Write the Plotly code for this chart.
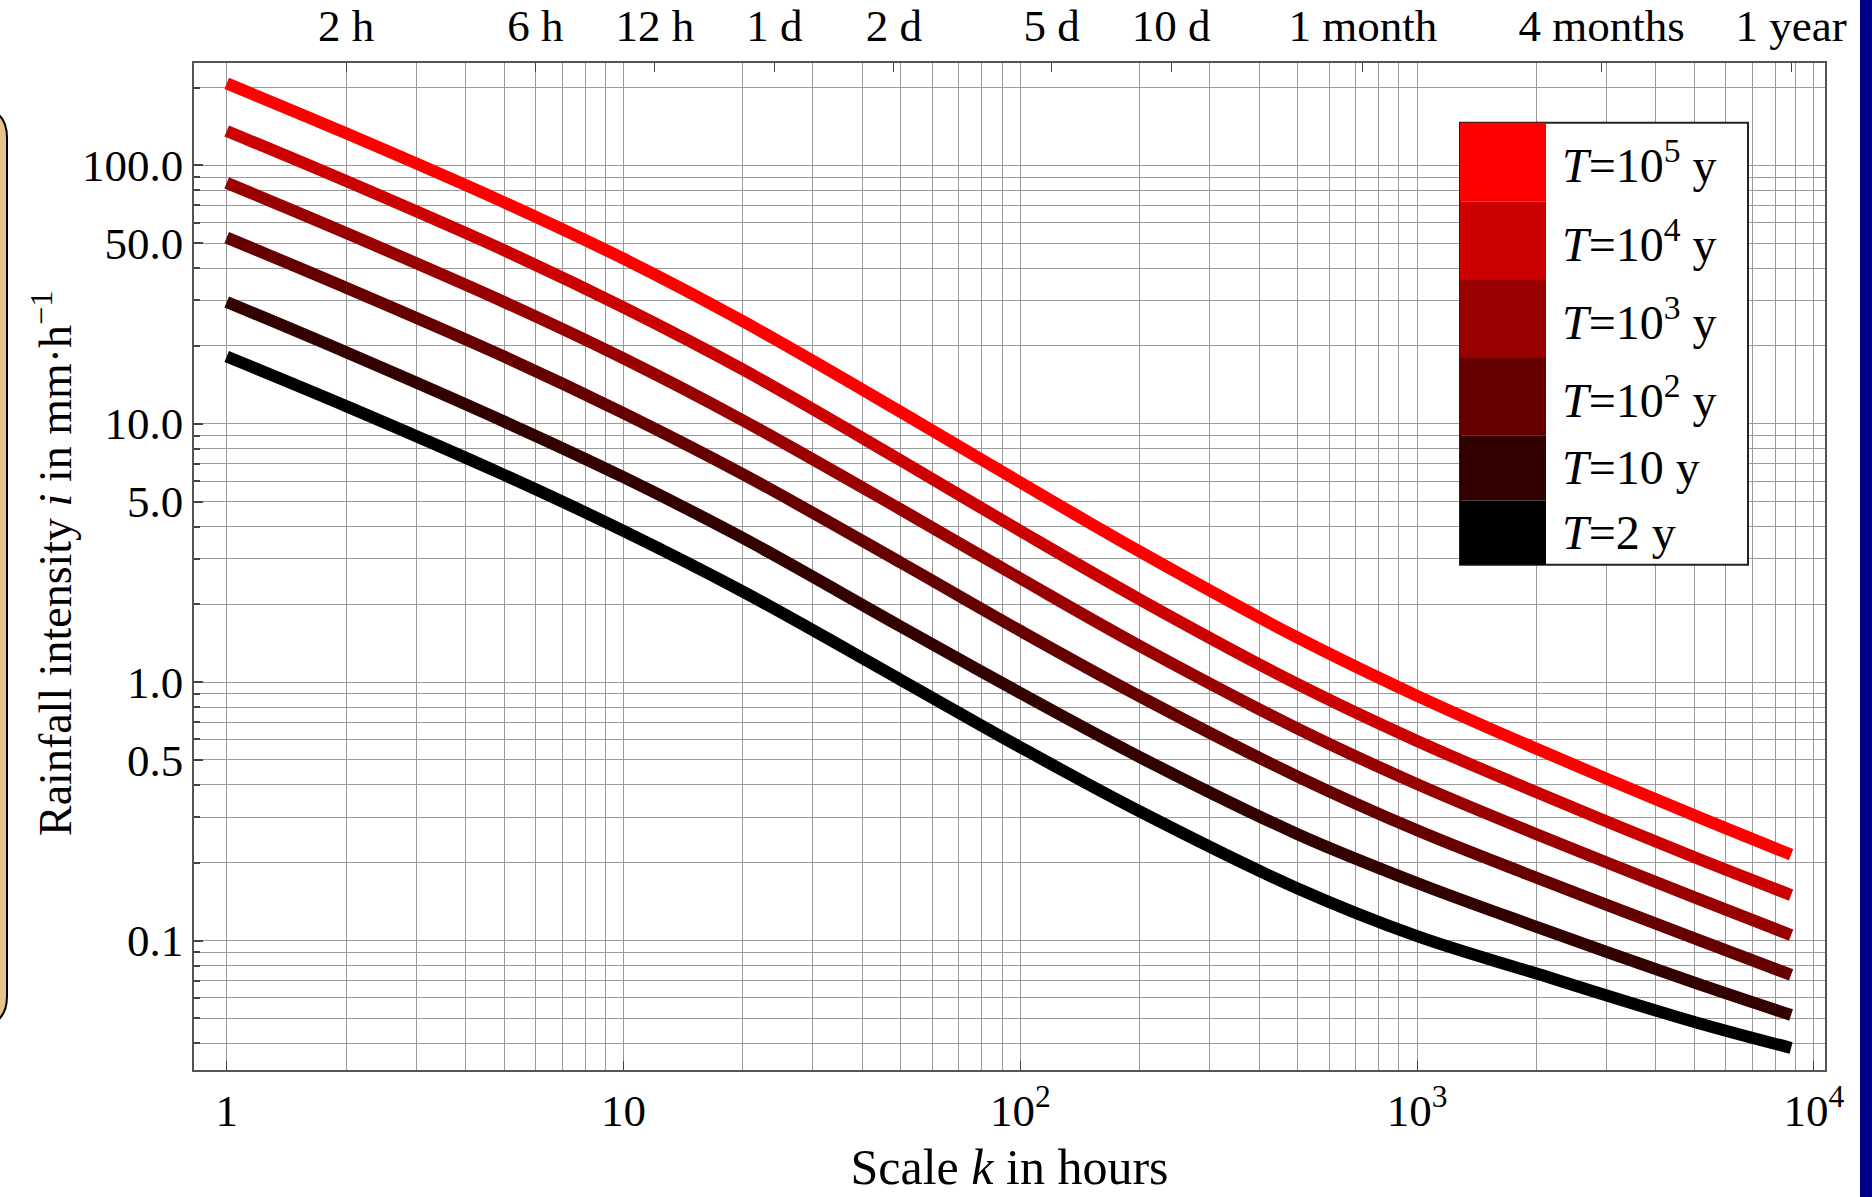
import plotly.graph_objects as go

# ---------------- data ----------------
hours = [1, 2, 5, 10, 20, 50, 100, 200, 500, 1000, 2000, 5000, 8760]

series_names = ["T=1e5", "T=1e4", "T=1e3", "T=1e2", "T=10", "T=2"]
legend_labels = ["<i>T</i>=10<sup>5</sup> y", "<i>T</i>=10<sup>4</sup> y", "<i>T</i>=10<sup>3</sup> y",
                 "<i>T</i>=10<sup>2</sup> y", "<i>T</i>=10 y", "<i>T</i>=2 y"]
colors = ["#FF0000", "#CC0000", "#990000", "#660000", "#330000", "#000000"]

i_T1e5 = [207.5, 133.0, 71.9, 43.5, 24.9, 11.1, 5.93, 3.20, 1.486, 0.885, 0.552, 0.305, 0.215]
i_T1e4 = [135.8, 86.9, 46.9, 28.2, 16.2, 7.21, 3.85, 2.09, 0.982, 0.592, 0.375, 0.210, 0.150]
i_T1e3 = [85.5, 54.7, 29.6, 17.9, 10.3, 4.66, 2.52, 1.380, 0.661, 0.403, 0.258, 0.147, 0.105]
i_T1e2 = [52.5, 33.6, 18.2, 11.0, 6.38, 2.90, 1.58, 0.881, 0.431, 0.267, 0.175, 0.102, 0.0736]
i_T10 = [29.6, 18.9, 10.2, 6.21, 3.61, 1.64, 0.908, 0.513, 0.258, 0.167, 0.113, 0.0687, 0.0515]
i_T2 = [18.2, 11.7, 6.34, 3.85, 2.24, 1.02, 0.560, 0.316, 0.159, 0.104, 0.0745, 0.0484, 0.0384]
series_values = [i_T1e5, i_T1e4, i_T1e3, i_T1e2, i_T10, i_T2]

x_major = [1, 10, 100, 1000, 10000]
x_major_text = ["1", "10", "10<sup>2</sup>", "10<sup>3</sup>", "10<sup>4</sup>"]
y_major = [0.1, 0.5, 1, 5, 10, 50, 100]
y_major_text = ["0.1", "0.5", "1.0", "5.0", "10.0", "50.0", "100.0"]
top_hours = [2, 6, 12, 24, 48, 120, 240, 730, 2920, 8760]
top_text = ["2 h", "6 h", "12 h", "1 d", "2 d", "5 d", "10 d", "1 month", "4 months", "1 year"]

# ---------------- layout geometry ----------------
W, H = 1872, 1197
PL, PR, PT, PB = 194, 1825, 63, 1070


def px(xp):
    return (xp - PL) / (PR - PL)


def py(yp):
    return (PB - yp) / (PB - PT)


FONT = "Liberation Serif"

x_minor = [m * 10 ** k for k in range(0, 4) for m in range(2, 10)]
y_minor = [m * 10 ** k for k in range(-2, 3) for m in range(1, 10)
           if m * 10 ** k not in y_major and 0.03 < m * 10 ** k < 250]

fig = go.Figure()
for name, vals, col in zip(series_names, series_values, colors):
    fig.add_trace(go.Scatter(x=hours, y=vals, mode="lines", name=name,
                             line=dict(color=col, width=12, shape="spline", smoothing=1.0),
                             showlegend=False, hoverinfo="x+y"))

# invisible trace to anchor top axis
fig.add_trace(go.Scatter(x=[top_hours[0], top_hours[-1]], y=[1, 1], xaxis="x2", mode="markers",
                         marker=dict(opacity=0), showlegend=False, hoverinfo="skip"))

grid_col = "#9a9a9a"
TICK_SIZE = 45
fig.update_layout(
    width=W, height=H,
    margin=dict(l=PL, r=W - PR, t=PT, b=H - PB),
    paper_bgcolor="white", plot_bgcolor="white",
    font=dict(family=FONT, size=TICK_SIZE, color="black"),
    xaxis=dict(type="log", range=[-0.0824, 4.028], automargin=False,
               tickvals=x_major, ticktext=x_major_text, ticks="inside", ticklen=9,
               tickcolor="#444", tickwidth=1.2,
               showgrid=True, gridcolor=grid_col, gridwidth=1,
               minor=dict(tickvals=x_minor, showgrid=True, gridcolor=grid_col, gridwidth=1, ticks=""),
               showline=True, linecolor="#555", linewidth=1.5, mirror=True, zeroline=False,
               title=dict(text="Scale <i>k</i> in hours", font=dict(size=50), standoff=14),
               tickfont=dict(size=TICK_SIZE)),
    xaxis2=dict(type="log", range=[-0.0824, 4.028], overlaying="x", side="top", automargin=False,
                tickvals=top_hours, ticktext=top_text, ticks="inside", ticklen=9,
                tickcolor="#444", tickwidth=1.2, showgrid=False, showline=False,
                zeroline=False, tickfont=dict(size=TICK_SIZE), ticklabelstandoff=12),
    yaxis=dict(type="log", range=[-1.501, 2.396], automargin=False,
               tickvals=y_major, ticktext=y_major_text, ticks="inside", ticklen=9,
               tickcolor="#444", tickwidth=1.5,
               showgrid=True, gridcolor=grid_col, gridwidth=1,
               minor=dict(tickvals=y_minor, showgrid=True, gridcolor=grid_col, gridwidth=1,
                          ticks="inside", ticklen=6, tickcolor="#444"),
               showline=True, linecolor="#555", linewidth=1.5, mirror=True, zeroline=False,
               tickfont=dict(size=TICK_SIZE)),
)

shapes = []
# beige rounded box on left edge
x0, x1, y0, y1, r = px(-40), px(7), py(108), py(1026), 30
rx = r / (PR - PL)
ry = r / (PB - PT)
path = (f"M {x0},{y0} L {x1 - rx},{y0} Q {x1},{y0} {x1},{y0 - ry} "
        f"L {x1},{y1 + ry} Q {x1},{y1} {x1 - rx},{y1} L {x0},{y1} Z")
shapes.append(dict(type="path", xref="paper", yref="paper", path=path,
                   fillcolor="#E7C38C", line=dict(color="black", width=2), layer="above"))
# navy bar on right
shapes.append(dict(type="rect", xref="paper", yref="paper", x0=px(1860), x1=px(1880),
                   y0=py(-10), y1=py(1210), fillcolor="#00008B", line=dict(width=0), layer="above"))

annotations = []
# y-axis title
annotations.append(dict(xref="paper", yref="paper", x=px(52), y=py(564), textangle=-90,
                        text="Rainfall intensity <i>i</i> in mm·h<sup>−1</sup>", showarrow=False,
                        xanchor="center", yanchor="middle",
                        font=dict(family=FONT, size=46, color="black")))

# legend box
LX0, LX1, LSW = 1460, 1748, 1546
row_edges = [122.7, 201.4, 280.1, 357.9, 435.2, 500.6, 564.7]
shapes.append(dict(type="rect", xref="paper", yref="paper", x0=px(LX0), x1=px(LX1),
                   y0=py(row_edges[-1]), y1=py(row_edges[0]), fillcolor="white",
                   line=dict(color="#222", width=2), layer="above"))
for k, (lab, col) in enumerate(zip(legend_labels, colors)):
    ya, yb = row_edges[k], row_edges[k + 1]
    shapes.append(dict(type="rect", xref="paper", yref="paper", x0=px(LX0), x1=px(LSW),
                       y0=py(yb), y1=py(ya), fillcolor=col, line=dict(width=0), layer="above"))
    annotations.append(dict(xref="paper", yref="paper", x=px(LSW + 14), y=py((ya + yb) / 2),
                            text=lab, showarrow=False, xanchor="left", yanchor="middle",
                            font=dict(family=FONT, size=48, color="black")))

fig.update_layout(shapes=shapes, annotations=annotations)
fig.write_html("out.html")
